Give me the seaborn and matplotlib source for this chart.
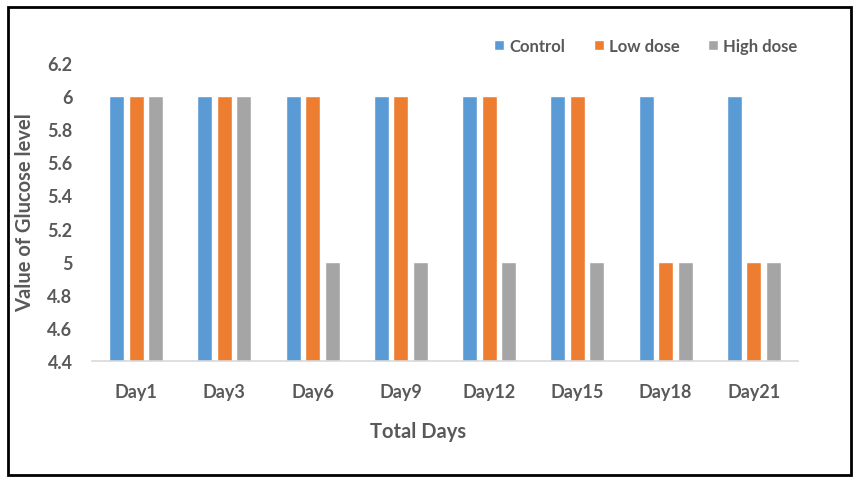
import pandas as pd
import seaborn as sns
import matplotlib.pyplot as plt
from matplotlib.patches import Rectangle
from matplotlib.ticker import FuncFormatter, MultipleLocator

days = ['Day1', 'Day3', 'Day6', 'Day9', 'Day12', 'Day15', 'Day18', 'Day21']
control = [6, 6, 6, 6, 6, 6, 6, 6]
low_dose = [6, 6, 6, 6, 6, 6, 5, 5]
high_dose = [6, 6, 5, 5, 5, 5, 5, 5]
groups = ['Control', 'Low dose', 'High dose']
colors = ['#5B9BD5', '#ED7D31', '#A5A5A5']

df = pd.DataFrame({'Day': days * 3,
                   'Value': control + low_dose + high_dose,
                   'Group': [g for g in groups for _ in days]})

sns.set_theme(style='white')
plt.rcParams['font.family'] = ['Lato', 'DejaVu Sans']
txt = '#595959'

fig = plt.figure(figsize=(8.6, 4.81), dpi=100)
ax = fig.add_axes([92 / 860, 1 - 362 / 481, 706 / 860, 298 / 481])

sns.barplot(data=df, x='Day', y='Value', hue='Group', palette=colors,
            width=0.665, gap=0.23, ax=ax, saturation=1, legend=True)

ax.set_ylim(4.4, 6.2)
ax.set_xlim(-0.5, 7.5)
ax.yaxis.set_major_locator(MultipleLocator(0.2))
ax.yaxis.set_major_formatter(FuncFormatter(lambda v, p: f'{v:g}'))
for s in ['top', 'right', 'left']:
    ax.spines[s].set_visible(False)
ax.spines['bottom'].set_color('#D9D9D9')
ax.spines['bottom'].set_linewidth(1.2)
ax.tick_params(axis='both', length=0, labelsize=13, colors=txt, labelcolor=txt)
ax.tick_params(axis='x', pad=16)
ax.tick_params(axis='y', pad=14)
for lab in ax.get_xticklabels() + ax.get_yticklabels():
    lab.set_fontweight('bold')

ax.set_xlabel('Total Days', fontsize=14.5, fontweight='bold', color=txt)
ax.xaxis.set_label_coords((418 - 92) / 706, -(432 - 362) / 298)
ax.xaxis.label.set_va('center')
ax.set_ylabel('Value of Glucose level', fontsize=14.5, fontweight='bold', color=txt)
ax.yaxis.set_label_coords(-(92 - 25) / 706, 0.5)
ax.yaxis.label.set_va('center')

leg = ax.legend(loc='upper right', bbox_to_anchor=(812 / 860, 1 - 24 / 481),
                bbox_transform=fig.transFigure, ncol=3, frameon=False,
                fontsize=12, handlelength=0.6, handleheight=0.6,
                handletextpad=0.3, columnspacing=1.7)
for t in leg.get_texts():
    t.set_color(txt)
    t.set_fontweight('bold')

fig.patches.append(Rectangle((8 / 860, 1 - 476 / 481), 843 / 860, 468 / 481,
                             transform=fig.transFigure, fill=False,
                             edgecolor='black', linewidth=2))

fig.savefig('out.png', dpi=100)
